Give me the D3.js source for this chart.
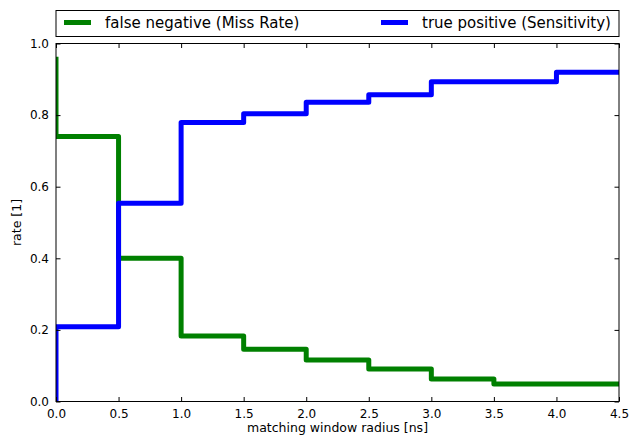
<!DOCTYPE html>
<html>
<head>
<meta charset="utf-8">
<script src="https://cdn.jsdelivr.net/npm/d3@7"></script>
<style>
  html, body { margin: 0; padding: 0; background: #fff; }
  svg { display: block; font-family: "DejaVu Sans", sans-serif; }
</style>
</head>
<body>
<svg id="chart" width="632" height="438"></svg>
<script>
// Data
const radius = [0.0, 0.5, 1.0, 1.5, 2.0, 2.5, 3.0, 3.5, 4.0, 4.5];
const falseNegative = [0.956, 0.740, 0.400, 0.183, 0.146, 0.116, 0.091, 0.063, 0.049, 0.049];
const truePositive = [0.0, 0.209, 0.554, 0.779, 0.804, 0.836, 0.857, 0.893, 0.893, 0.920];
const xTicks = [0.0, 0.5, 1.0, 1.5, 2.0, 2.5, 3.0, 3.5, 4.0, 4.5];
const yTicks = [0.0, 0.2, 0.4, 0.6, 0.8, 1.0];
const seriesNames = ["false negative (Miss Rate)", "true positive (Sensitivity)"];
const seriesColors = ["#008000", "#0000ff"];

const svg = d3.select("#chart");
const m = { left: 56, right: 619, top: 43.5, bottom: 401.5 };

const x = d3.scaleLinear().domain([0, 4.5]).range([m.left, m.right]);
const y = d3.scaleLinear().domain([0, 1]).range([m.bottom, m.top]);

svg.append("defs").append("clipPath").attr("id", "clip")
  .append("rect")
  .attr("x", m.left).attr("y", m.top)
  .attr("width", m.right - m.left).attr("height", m.bottom - m.top);

const line = d3.line().curve(d3.curveStepBefore)
  .x((d, i) => x(radius[i])).y(d => y(d));

const g = svg.append("g").attr("clip-path", "url(#clip)");
[falseNegative, truePositive].forEach((vals, k) => {
  g.append("path")
    .attr("d", line(vals))
    .attr("fill", "none")
    .attr("stroke", seriesColors[k])
    .attr("stroke-width", 5)
    .attr("stroke-linejoin", "round")
    .attr("stroke-linecap", "square");
});

// Axes (ticks inward)
const tl = 4.5;
const axB = svg.append("g").attr("transform", `translate(0,${m.bottom})`)
  .call(d3.axisBottom(x).tickValues(xTicks).tickFormat(d3.format(".1f"))
    .tickSizeInner(-tl).tickSizeOuter(0).tickPadding(8));
const axT = svg.append("g").attr("transform", `translate(0,${m.top})`)
  .call(d3.axisTop(x).tickValues(xTicks).tickFormat("")
    .tickSizeInner(-tl).tickSizeOuter(0));
const axL = svg.append("g").attr("transform", `translate(${m.left},0)`)
  .call(d3.axisLeft(y).tickValues(yTicks).tickFormat(d3.format(".1f"))
    .tickSizeInner(-tl).tickSizeOuter(0).tickPadding(7));
const axR = svg.append("g").attr("transform", `translate(${m.right},0)`)
  .call(d3.axisRight(y).tickValues(yTicks).tickFormat("")
    .tickSizeInner(-tl).tickSizeOuter(0));

[axB, axT, axL, axR].forEach(a => {
  a.select(".domain").remove();
  a.selectAll(".tick line").attr("stroke", "#000").attr("stroke-width", 1);
  a.selectAll("text").attr("fill", "#000")
    .style("font-size", "12px").style("font-family", "DejaVu Sans, sans-serif");
});

// Frame
svg.append("rect")
  .attr("x", m.left).attr("y", m.top)
  .attr("width", m.right - m.left).attr("height", m.bottom - m.top)
  .attr("fill", "none").attr("stroke", "#000").attr("stroke-width", 1);

// Axis labels
svg.append("text")
  .attr("x", (m.left + m.right) / 2).attr("y", 432)
  .attr("text-anchor", "middle").style("font-size", "12.5px")
  .text("matching window radius [ns]");
svg.append("text")
  .attr("transform", `translate(21,${(m.top + m.bottom) / 2}) rotate(-90)`)
  .attr("text-anchor", "middle").style("font-size", "12.5px")
  .text("rate [1]");

// Legend
const lg = svg.append("g");
lg.append("rect")
  .attr("x", m.left).attr("y", 10.5)
  .attr("width", m.right - m.left).attr("height", 26)
  .attr("fill", "#fff").attr("stroke", "#000").attr("stroke-width", 1);
const legendX = [64, 381];
seriesNames.forEach((name, k) => {
  lg.append("line")
    .attr("x1", legendX[k]).attr("x2", legendX[k] + 27)
    .attr("y1", 22.5).attr("y2", 22.5)
    .attr("stroke", seriesColors[k]).attr("stroke-width", 5);
  lg.append("text")
    .attr("x", legendX[k] + 41).attr("y", 28)
    .style("font-size", "15px")
    .text(name);
});
</script>
</body>
</html>
